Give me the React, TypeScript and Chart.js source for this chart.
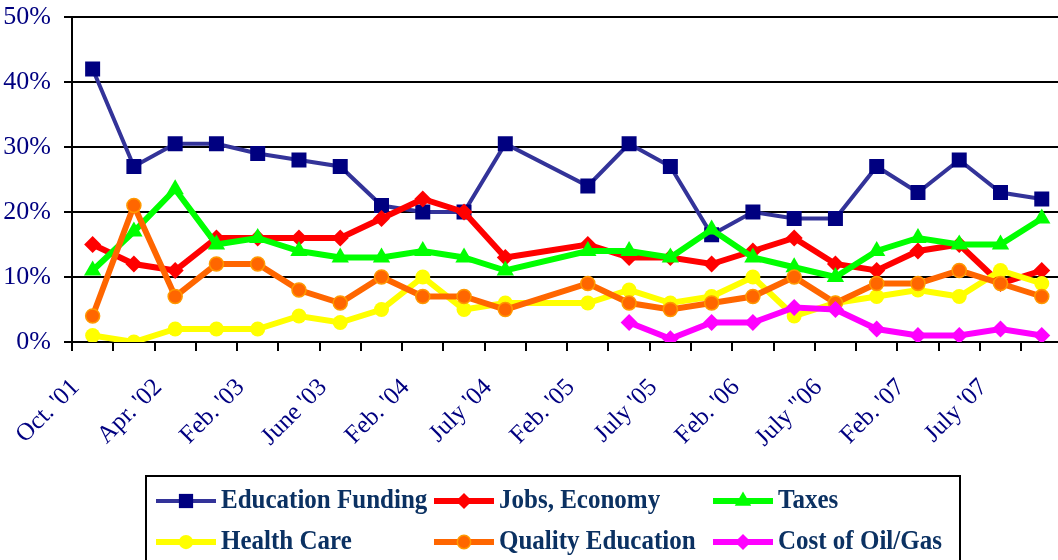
import React, { useEffect, useRef } from "react";
import { Chart, registerables } from "chart.js";

Chart.register(...registerables);

const categories = [
  "Oct. '01", "", "Apr. '02", "", "Feb. '03", "", "June '03", "", "Feb. '04", "", "July '04", "",
  "Feb. '05", "", "July '05", "", "Feb. '06", "", "July \"06", "", "Feb. '07", "", "July '07", "",
];

const educationFunding = [42, 27, 30.5, 30.5, 29, 28, 27, 21, 20, 20, 30.5, null, 24, 30.5, 27, 16.5, 20, 19, 19, 27, 23, 28, 23, 22];
const jobsEconomy = [15, 12, 11, 16, 16, 16, 16, 19, 22, 20, 13, null, 15, 13, 13, 12, 14, 16, 12, 11, 14, 15, 9, 11];
const taxes = [11, 17, 23.5, 15, 16, 14, 13, 13, 14, 13, 11, null, 14, 14, 13, 17.3, 13, 11.5, 10, 14, 16, 15, 15, 19];
const healthCare = [1, 0, 2, 2, 2, 4, 3, 5, 10, 5, 6, null, 6, 8, 6, 7, 10, 4, 6, 7, 8, 7, 11, 9];
const qualityEducation = [4, 21, 7, 12, 12, 8, 6, 10, 7, 7, 5, null, 9, 6, 5, 6, 7, 10, 6, 9, 9, 11, 9, 7];
const costOfOilGas = [null, null, null, null, null, null, null, null, null, null, null, null, null, 3, 0.5, 3, 3, 5.3, 5, 2, 1, 1, 2, 1];

const yTicks = [0, 10, 20, 30, 40, 50];

const seriesNames = ["Education Funding", "Jobs, Economy", "Taxes", "Health Care", "Quality Education", "Cost of Oil/Gas"];
const seriesValues = [educationFunding, jobsEconomy, taxes, healthCare, qualityEducation, costOfOilGas];

const styles = [
  { line: "#333399", fill: "#000080", border: "#000080", point: "rect", radius: 10.6, lw: 4, pbw: 0 },
  { line: "#FF0000", fill: "#FF0000", border: "#FF0000", point: "rectRot", radius: 8.5, lw: 6, pbw: 0 },
  { line: "#00FF00", fill: "#00FF00", border: "#00FF00", point: "triangle", radius: 10, lw: 6, pbw: 0 },
  { line: "#FFFF00", fill: "#FFFF00", border: "#FFFF00", point: "circle", radius: 7.5, lw: 6, pbw: 0 },
  { line: "#FF6600", fill: "#FF6600", border: "#FF9900", point: "circle", radius: 7, lw: 6, pbw: 1.5 },
  { line: "#FF00FF", fill: "#FF00FF", border: "#FF00FF", point: "rectRot", radius: 8.5, lw: 6, pbw: 0 },
];

const AXIS_COLOR = "#000080";
const LEGEND_TEXT = "#0B3162";
const SERIF = "'Liberation Serif', 'Times New Roman', serif";

function drawMarker(ctx: CanvasRenderingContext2D, kind: string, x: number, y: number, r: number, fill: string, border: string, bw: number) {
  ctx.save();
  ctx.fillStyle = fill;
  ctx.strokeStyle = border;
  ctx.lineWidth = bw;
  ctx.beginPath();
  if (kind === "rect") {
    const s = r * Math.SQRT1_2;
    ctx.rect(x - s, y - s, 2 * s, 2 * s);
  } else if (kind === "rectRot") {
    ctx.moveTo(x, y - r);
    ctx.lineTo(x + r, y);
    ctx.lineTo(x, y + r);
    ctx.lineTo(x - r, y);
    ctx.closePath();
  } else if (kind === "triangle") {
    ctx.moveTo(x, y - r);
    ctx.lineTo(x + r * Math.sin(Math.PI / 3), y + r * 0.5);
    ctx.lineTo(x - r * Math.sin(Math.PI / 3), y + r * 0.5);
    ctx.closePath();
  } else {
    ctx.arc(x, y, r, 0, Math.PI * 2);
  }
  ctx.fill();
  if (bw > 0) ctx.stroke();
  ctx.restore();
}

const legendPlugin = {
  id: "boxLegend",
  afterDraw(chart: any) {
    const ctx: CanvasRenderingContext2D = chart.ctx;
    ctx.save();
    ctx.strokeStyle = "#000";
    ctx.lineWidth = 2;
    ctx.strokeRect(146, 476, 814, 120);
    const cols = [156, 434, 713];
    const rows = [501, 542];
    seriesNames.forEach((name, i) => {
      const st = styles[i];
      const x0 = cols[i % 3];
      const y = rows[Math.floor(i / 3)];
      ctx.strokeStyle = st.line;
      ctx.lineWidth = st.lw;
      ctx.beginPath();
      ctx.moveTo(x0, y);
      ctx.lineTo(x0 + 60, y);
      ctx.stroke();
      drawMarker(ctx, st.point, x0 + 30, y, st.radius * 0.95, st.fill, st.border, st.pbw);
      ctx.save();
      ctx.fillStyle = LEGEND_TEXT;
      ctx.font = `bold 25px ${SERIF}`;
      ctx.textBaseline = "middle";
      ctx.textAlign = "left";
      ctx.translate(x0 + 65, y);
      ctx.scale(1, 1.08);
      ctx.fillText(name, 0, 0);
      ctx.restore();
    });
    ctx.restore();
  },
};

export default function App() {
  const ref = useRef<HTMLCanvasElement | null>(null);
  useEffect(() => {
    if (!ref.current) return;
    const order = [6, 5, 4, 3, 2, 1];
    const chart = new Chart(ref.current, {
      type: "line",
      data: {
        labels: categories,
        datasets: seriesNames.map((name, i) => ({
          label: name,
          data: seriesValues[i],
          borderColor: styles[i].line,
          backgroundColor: styles[i].fill,
          borderWidth: styles[i].lw,
          pointStyle: styles[i].point as any,
          pointRadius: styles[i].radius,
          pointBackgroundColor: styles[i].fill,
          pointBorderColor: styles[i].border,
          pointBorderWidth: styles[i].pbw,
          tension: 0,
          spanGaps: true,
          fill: false,
          order: order[i],
        })),
      },
      options: {
        animation: false,
        responsive: false,
        maintainAspectRatio: false,
        devicePixelRatio: 1,
        layout: { padding: { top: 17, left: 0, right: 6, bottom: 108 } },
        plugins: { legend: { display: false }, tooltip: { enabled: false } },
        scales: {
          x: {
            offset: true,
            grid: { offset: true, drawOnChartArea: false, drawTicks: true, tickLength: 9, color: "#000", lineWidth: 2 },
            border: { color: "#000", width: 2 },
            ticks: {
              autoSkip: false,
              maxRotation: 45,
              minRotation: 45,
              color: AXIS_COLOR,
              font: { family: SERIF, size: 25 },
              labelOffset: -17,
              padding: 22,
            },
            afterFit: (s: any) => {
              s.height = 110;
              s.paddingLeft = 0;
              s.paddingRight = 0;
            },
          },
          y: {
            min: yTicks[0],
            max: yTicks[yTicks.length - 1],
            afterBuildTicks: (s: any) => { s.ticks = yTicks.map((v) => ({ value: v })); },
            ticks: { callback: (v: any) => v + "%", color: AXIS_COLOR, font: { family: SERIF, size: 26 }, padding: 13 },
            grid: { color: "#000", lineWidth: 2, tickLength: 8, drawTicks: true },
            border: { color: "#000", width: 2 },
            afterFit: (s: any) => {
              s.width = 72;
              s.paddingTop = 0;
              s.paddingBottom = 0;
            },
          },
        },
      },
      plugins: [legendPlugin],
    });
    return () => chart.destroy();
  }, []);
  return (
    <div style={{ position: "fixed", left: 0, top: 0, width: 1058, height: 560, overflow: "hidden", background: "#fff" }}>
      <canvas ref={ref} width={1073} height={560} style={{ width: 1073, height: 560, display: "block" }} />
    </div>
  );
}
